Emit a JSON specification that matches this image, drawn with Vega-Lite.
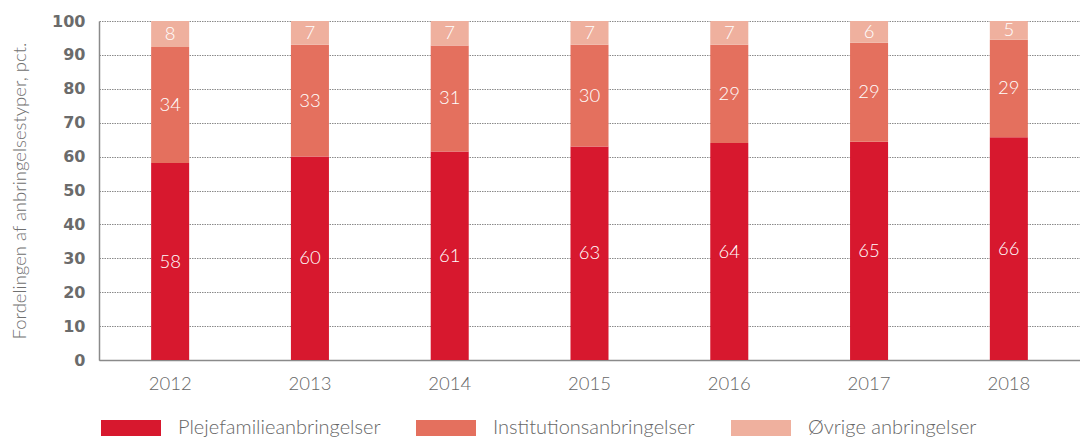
{
  "$schema": "https://vega.github.io/schema/vega-lite/v6.json",
  "width": 981,
  "height": 339,
  "autosize": {"type": "none"},
  "padding": {"left": 99, "top": 21, "right": 0, "bottom": 78},
  "background": "white",
  "config": {
    "font": "Lato",
    "view": {"stroke": null}
  },
  "data": {
    "values": [
      {"year": "2012", "type": "Plejefamilieanbringelser", "order": 1, "value": 58.1, "label": "58"},
      {"year": "2012", "type": "Institutionsanbringelser", "order": 2, "value": 34.2, "label": "34"},
      {"year": "2012", "type": "Øvrige anbringelser", "order": 3, "value": 7.7, "label": "8"},
      {"year": "2013", "type": "Plejefamilieanbringelser", "order": 1, "value": 60.0, "label": "60"},
      {"year": "2013", "type": "Institutionsanbringelser", "order": 2, "value": 33.0, "label": "33"},
      {"year": "2013", "type": "Øvrige anbringelser", "order": 3, "value": 7.0, "label": "7"},
      {"year": "2014", "type": "Plejefamilieanbringelser", "order": 1, "value": 61.5, "label": "61"},
      {"year": "2014", "type": "Institutionsanbringelser", "order": 2, "value": 31.3, "label": "31"},
      {"year": "2014", "type": "Øvrige anbringelser", "order": 3, "value": 7.2, "label": "7"},
      {"year": "2015", "type": "Plejefamilieanbringelser", "order": 1, "value": 63.0, "label": "63"},
      {"year": "2015", "type": "Institutionsanbringelser", "order": 2, "value": 30.0, "label": "30"},
      {"year": "2015", "type": "Øvrige anbringelser", "order": 3, "value": 7.0, "label": "7"},
      {"year": "2016", "type": "Plejefamilieanbringelser", "order": 1, "value": 64.0, "label": "64"},
      {"year": "2016", "type": "Institutionsanbringelser", "order": 2, "value": 29.0, "label": "29"},
      {"year": "2016", "type": "Øvrige anbringelser", "order": 3, "value": 7.0, "label": "7"},
      {"year": "2017", "type": "Plejefamilieanbringelser", "order": 1, "value": 64.4, "label": "65"},
      {"year": "2017", "type": "Institutionsanbringelser", "order": 2, "value": 29.2, "label": "29"},
      {"year": "2017", "type": "Øvrige anbringelser", "order": 3, "value": 6.4, "label": "6"},
      {"year": "2018", "type": "Plejefamilieanbringelser", "order": 1, "value": 65.7, "label": "66"},
      {"year": "2018", "type": "Institutionsanbringelser", "order": 2, "value": 28.8, "label": "29"},
      {"year": "2018", "type": "Øvrige anbringelser", "order": 3, "value": 5.5, "label": "5"}
    ]
  },
  "encoding": {
    "x": {
      "field": "year",
      "type": "nominal",
      "scale": {"paddingInner": 0.728, "paddingOuter": 0.373},
      "axis": {
        "title": null,
        "labelAngle": 0,
        "labelFontSize": 18.5,
        "labelFont": "Lato",
        "labelFontWeight": 300,
        "labelColor": "#666666",
        "labelPadding": 14,
        "ticks": false,
        "domainColor": "#8a8a8a",
        "domainWidth": 1.5,
        "grid": false
      }
    },
    "y": {
      "field": "value",
      "type": "quantitative",
      "stack": "zero",
      "scale": {"domain": [0, 100], "nice": false},
      "axis": {
        "title": "Fordelingen af anbringelsestyper, pct.",
        "titleFontSize": 18.5,
        "titleFontWeight": 300,
        "titleColor": "#707070",
        "titlePadding": 22,
        "values": [0, 10, 20, 30, 40, 50, 60, 70, 80, 90, 100],
        "labelFont": "DejaVu Sans",
        "labelFontSize": 16,
        "labelFontWeight": "bold",
        "labelColor": "#6b6b6b",
        "labelPadding": 14,
        "ticks": false,
        "domainColor": "#8a8a8a",
        "domainWidth": 1.5,
        "grid": true,
        "gridColor": "#8a8a8a",
        "gridDash": [1.5, 1],
        "gridWidth": 1
      }
    },
    "order": {"field": "order", "type": "quantitative"}
  },
  "layer": [
    {
      "mark": {"type": "bar"},
      "encoding": {
        "color": {
          "field": "type",
          "type": "nominal",
          "sort": ["Plejefamilieanbringelser", "Institutionsanbringelser", "Øvrige anbringelser"],
          "scale": {
            "domain": ["Plejefamilieanbringelser", "Institutionsanbringelser", "Øvrige anbringelser"],
            "range": ["#D7182E", "#E4705E", "#EFB09E"]
          },
          "legend": {
            "title": null,
            "orient": "none",
            "legendX": 0,
            "legendY": 397,
            "direction": "horizontal",
            "columns": 3,
            "gridAlign": "all",
            "columnPadding": 33,
            "symbolType": "M-1,-1H6.5V1H-1Z",
            "symbolSize": 256,
            "symbolStrokeWidth": 0,
            "labelOffset": 59,
            "labelFontSize": 20,
            "labelFontWeight": 300,
            "labelColor": "#666666",
            "labelLimit": 400
          }
        }
      }
    },
    {
      "mark": {"type": "text", "color": "white", "fontSize": 18.5, "fontWeight": 300, "baseline": "middle"},
      "encoding": {
        "y": {"field": "value", "type": "quantitative", "stack": "zero", "bandPosition": 0.5},
        "text": {"field": "label", "type": "nominal"}
      }
    }
  ]
}
